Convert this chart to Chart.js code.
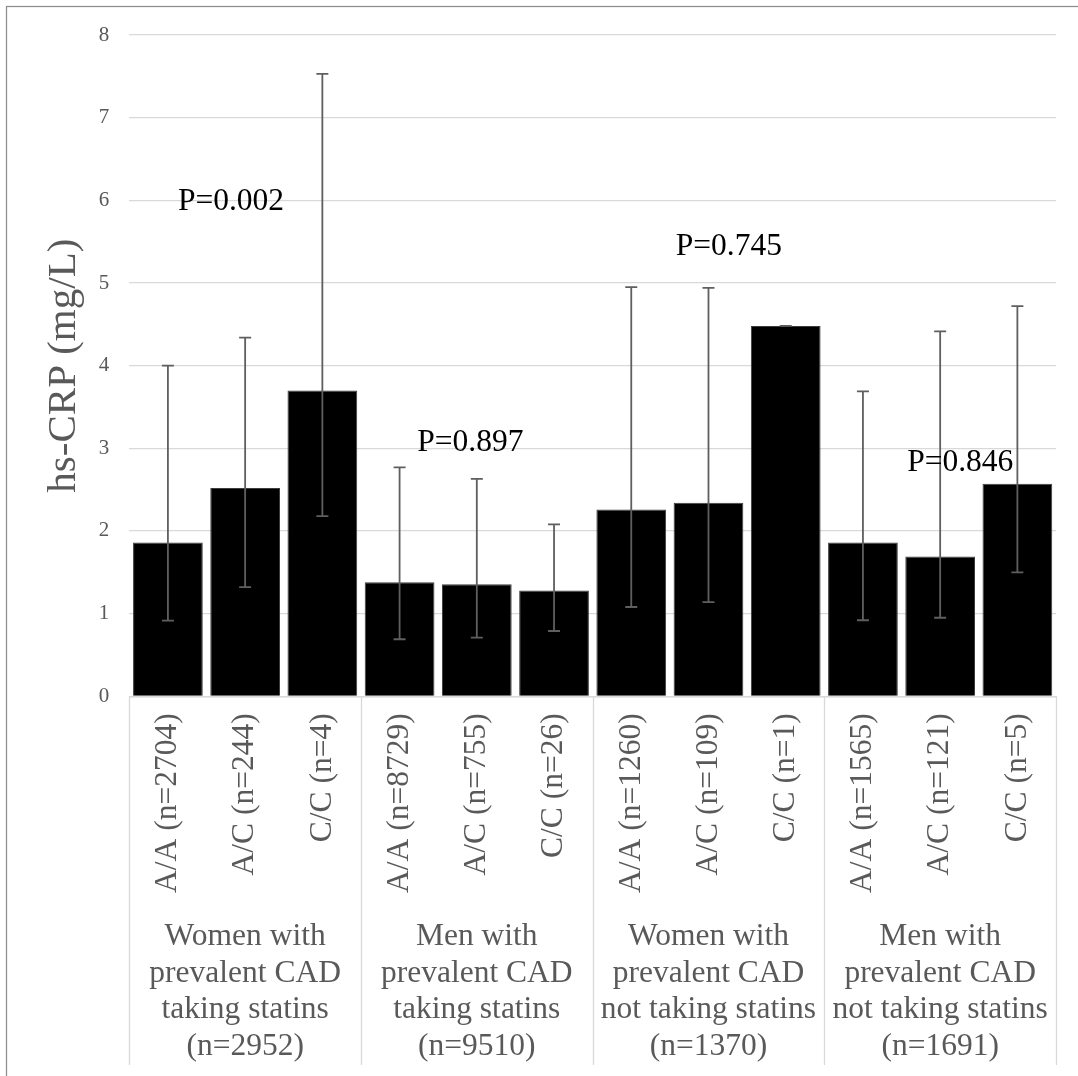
<!DOCTYPE html>
<html>
<head>
<meta charset="utf-8">
<title>hs-CRP by genotype</title>
<script src="https://cdn.jsdelivr.net/npm/chart.js@4.4.0/dist/chart.umd.min.js"></script>
<style>
  html, body { margin: 0; padding: 0; background: #ffffff; }
  canvas { display: block; }
</style>
</head>
<body>
<canvas id="chart" width="1078" height="1076"></canvas>
<script>
// Genotype subgroups (x axis, first level)
const categories = [
  'A/A (n=2704)', 'A/C (n=244)', 'C/C (n=4)',
  'A/A (n=8729)', 'A/C (n=755)', 'C/C (n=26)',
  'A/A (n=1260)', 'A/C (n=109)', 'C/C (n=1)',
  'A/A (n=1565)', 'A/C (n=121)', 'C/C (n=5)'
];

// Patient groups (x axis, second level)
const groups = [
  ['Women with', 'prevalent CAD', 'taking statins', '(n=2952)'],
  ['Men with', 'prevalent CAD', 'taking statins', '(n=9510)'],
  ['Women with', 'prevalent CAD', 'not taking statins', '(n=1370)'],
  ['Men with', 'prevalent CAD', 'not taking statins', '(n=1691)']
];

// Median hs-CRP (mg/L) and interquartile range
const medians = [1.86, 2.52, 3.70, 1.38, 1.355, 1.28, 2.26, 2.34, 4.48, 1.86, 1.69, 2.57];
const lower   = [0.915, 1.32, 2.18, 0.69, 0.71, 0.79, 1.08, 1.14, 4.48, 0.92, 0.95, 1.50];
const upper   = [4.00, 4.34, 7.53, 2.77, 2.63, 2.08, 4.95, 4.94, 4.48, 3.69, 4.415, 4.72];

// P values for each patient group
const pValues = ['P=0.002', 'P=0.897', 'P=0.745', 'P=0.846'];

// Y axis ticks
const yTicks = [0, 1, 2, 3, 4, 5, 6, 7, 8];

const SERIF = "'Liberation Serif', 'Times New Roman', serif";
const GREY = '#595959';
const GRID = '#d9d9d9';

// Where each P value sits, in axis units (category index, mg/L at baseline)
const pAnchors = [
  { x: 0.817, y: 5.88 },
  { x: 3.916, y: 2.97 },
  { x: 7.264, y: 5.34 },
  { x: 10.26, y: 2.73 }
];

// Thin frame around the whole figure
const framePlugin = {
  id: 'frame',
  beforeDraw(chart) {
    const ctx = chart.ctx;
    ctx.save();
    ctx.fillStyle = '#ffffff';
    ctx.fillRect(0, 0, chart.width, chart.height);
    ctx.strokeStyle = '#8c8c8c';
    ctx.lineWidth = 1.25;
    ctx.strokeRect(6.5, 6.5, chart.width + 50, chart.height + 50);
    ctx.restore();
  }
};

// Vertical separators between the patient groups under the axis
const groupLinesPlugin = {
  id: 'groupLines',
  afterDraw(chart) {
    const xs = chart.scales.x;
    const x2 = chart.scales.x2;
    const ctx = chart.ctx;
    ctx.save();
    ctx.strokeStyle = GRID;
    ctx.lineWidth = 1.3;
    for (let b = 0; b <= categories.length; b += 3) {
      const px = Math.round(xs.getPixelForValue(b - 0.5)) + 0.5;
      ctx.beginPath();
      ctx.moveTo(px, chart.chartArea.bottom);
      ctx.lineTo(px, x2.bottom);
      ctx.stroke();
    }
    ctx.restore();
  }
};

// Interquartile range whiskers on each bar
const errorBarPlugin = {
  id: 'errorBars',
  afterDatasetsDraw(chart) {
    const meta = chart.getDatasetMeta(0);
    const ys = chart.scales.y;
    const ctx = chart.ctx;
    ctx.save();
    ctx.strokeStyle = '#5f5f5f';
    ctx.lineWidth = 1.8;
    meta.data.forEach((bar, i) => {
      const x = bar.x;
      const yLo = ys.getPixelForValue(lower[i]);
      const yHi = ys.getPixelForValue(upper[i]);
      const cap = 6;
      ctx.beginPath();
      ctx.moveTo(x, yLo);
      ctx.lineTo(x, yHi);
      ctx.moveTo(x - cap, yLo);
      ctx.lineTo(x + cap, yLo);
      ctx.moveTo(x - cap, yHi);
      ctx.lineTo(x + cap, yHi);
      ctx.stroke();
    });
    ctx.restore();
  }
};

// P value annotations
const pValuePlugin = {
  id: 'pValues',
  afterDraw(chart) {
    const xs = chart.scales.x;
    const ys = chart.scales.y;
    const ctx = chart.ctx;
    ctx.save();
    ctx.fillStyle = '#000000';
    ctx.font = '31.5px ' + SERIF;
    ctx.textAlign = 'center';
    ctx.textBaseline = 'alphabetic';
    pValues.forEach((txt, i) => {
      ctx.fillText(txt, xs.getPixelForValue(pAnchors[i].x), ys.getPixelForValue(pAnchors[i].y));
    });
    ctx.restore();
  }
};

new Chart(document.getElementById('chart'), {
  type: 'bar',
  data: {
    labels: categories,
    datasets: [{
      data: medians,
      backgroundColor: '#000000',
      borderColor: '#3c3c3c',
      borderWidth: 1,
      categoryPercentage: 1.0,
      barPercentage: 0.903
    }]
  },
  options: {
    responsive: false,
    devicePixelRatio: 1,
    animation: false,
    layout: { padding: { left: 0, top: 35, right: 22, bottom: 11 } },
    plugins: {
      legend: { display: false },
      tooltip: { enabled: false }
    },
    scales: {
      y: {
        min: 0,
        max: 8,
        afterBuildTicks(scale) {
          scale.ticks = yTicks.map(v => ({ value: v }));
        },
        afterFit(scale) { scale.width = 129.3; },
        grid: { color: GRID, lineWidth: 1.3, drawTicks: false },
        border: { display: false },
        ticks: {
          padding: 20,
          color: GREY,
          font: { family: SERIF, size: 21 }
        },
        title: {
          display: true,
          text: 'hs-CRP (mg/L)',
          color: GREY,
          font: { family: SERIF, size: 41 },
          padding: { top: 40, bottom: 0 }
        }
      },
      x: {
        weight: 0,
        afterFit(scale) { scale.height = 210; },
        grid: { display: true, drawOnChartArea: false, drawTicks: false },
        border: { display: true, color: GRID, width: 1.5 },
        ticks: {
          autoSkip: false,
          minRotation: 90,
          maxRotation: 90,
          padding: 17,
          color: GREY,
          font: { family: SERIF, size: 31.5, lineHeight: 1.2 }
        }
      },
      x2: {
        type: 'category',
        position: 'bottom',
        weight: 1,
        labels: groups,
        offset: true,
        afterFit(scale) { scale.height = 158.7; },
        grid: { display: false, drawTicks: false },
        border: { display: false },
        ticks: {
          autoSkip: false,
          maxRotation: 0,
          minRotation: 0,
          padding: 12,
          color: GREY,
          font: { family: SERIF, size: 31.5, lineHeight: 1.165 }
        }
      }
    }
  },
  plugins: [framePlugin, groupLinesPlugin, errorBarPlugin, pValuePlugin]
});
</script>
</body>
</html>
